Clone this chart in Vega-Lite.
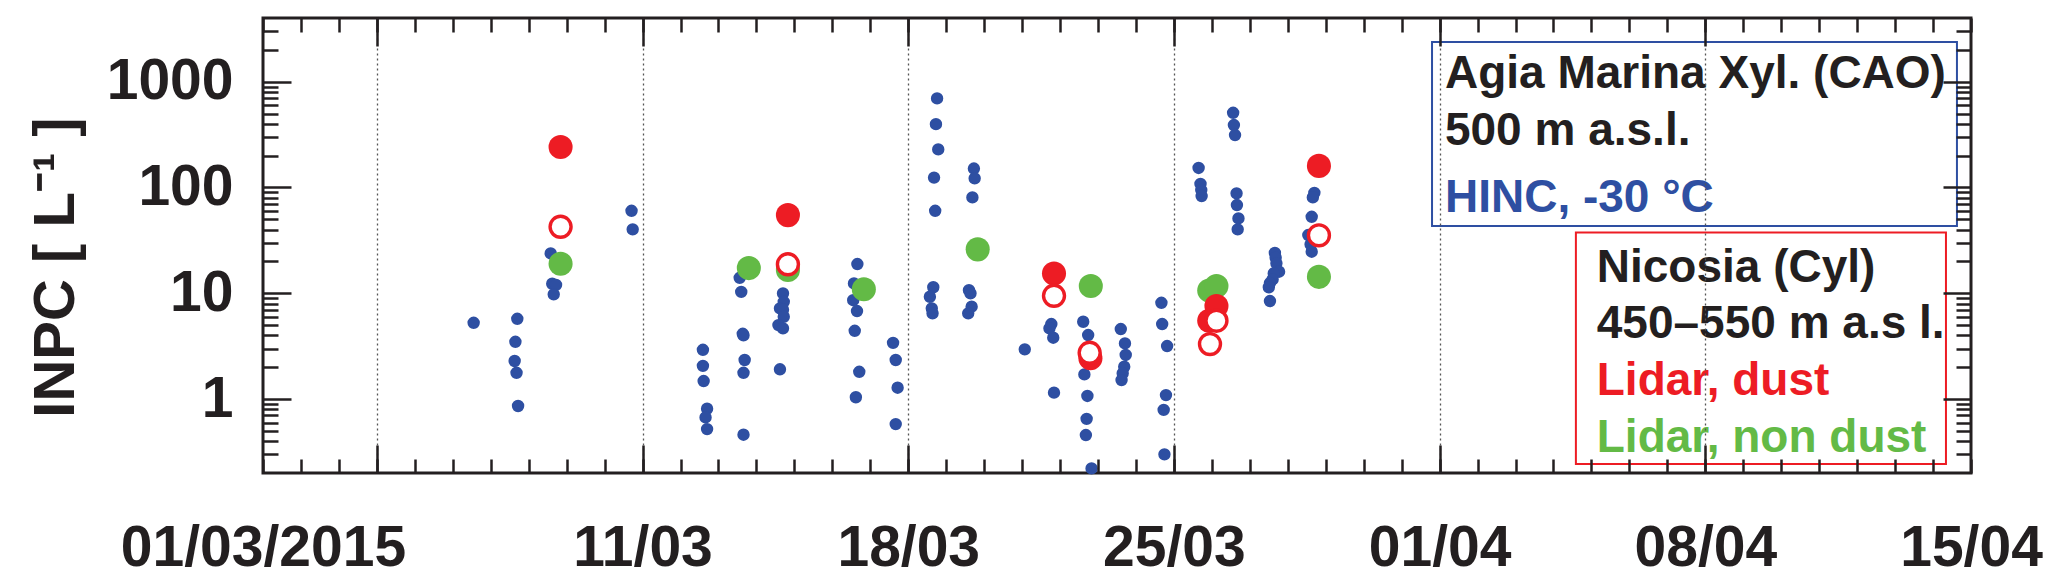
{
  "$schema": "https://vega.github.io/schema/vega-lite/v6.json",
  "autosize": {"type": "none"},
  "padding": {"left": 263, "top": 18, "right": 96, "bottom": 110},
  "width": 1708,
  "height": 455,
  "background": "white",
  "config": {
    "view": {"stroke": "#231f20", "strokeWidth": 3},
    "axis": {"title": null, "tickColor": "#231f20", "tickWidth": 2.5, "domain": false, "grid": false, "labelOverlap": false, "labelLimit": 0}
  },
  "datasets": {
    "obs": [
      {"time": "2015-03-06T13:12", "inpc": 5.26, "series": "HINC"},
      {"time": "2015-03-07T16:48", "inpc": 5.74, "series": "HINC"},
      {"time": "2015-03-07T15:36", "inpc": 3.48, "series": "HINC"},
      {"time": "2015-03-07T15:07", "inpc": 2.29, "series": "HINC"},
      {"time": "2015-03-07T16:19", "inpc": 1.77, "series": "HINC"},
      {"time": "2015-03-07T17:17", "inpc": 0.86, "series": "HINC"},
      {"time": "2015-03-08T13:55", "inpc": 23.8, "series": "HINC"},
      {"time": "2015-03-08T14:53", "inpc": 12.3, "series": "HINC"},
      {"time": "2015-03-08T17:17", "inpc": 12.0, "series": "HINC"},
      {"time": "2015-03-08T15:50", "inpc": 9.77, "series": "HINC"},
      {"time": "2015-03-10T17:02", "inpc": 60.2, "series": "HINC"},
      {"time": "2015-03-10T17:46", "inpc": 40.2, "series": "HINC"},
      {"time": "2015-03-12T14:10", "inpc": 2.92, "series": "HINC"},
      {"time": "2015-03-12T14:10", "inpc": 2.06, "series": "HINC"},
      {"time": "2015-03-12T14:38", "inpc": 1.48, "series": "HINC"},
      {"time": "2015-03-12T16:48", "inpc": 0.81, "series": "HINC"},
      {"time": "2015-03-12T15:50", "inpc": 0.67, "series": "HINC"},
      {"time": "2015-03-12T16:48", "inpc": 0.52, "series": "HINC"},
      {"time": "2015-03-13T13:26", "inpc": 14.0, "series": "HINC"},
      {"time": "2015-03-13T14:24", "inpc": 10.3, "series": "HINC"},
      {"time": "2015-03-13T15:22", "inpc": 4.14, "series": "HINC"},
      {"time": "2015-03-13T15:50", "inpc": 4.0, "series": "HINC"},
      {"time": "2015-03-13T16:34", "inpc": 2.34, "series": "HINC"},
      {"time": "2015-03-13T15:50", "inpc": 1.77, "series": "HINC"},
      {"time": "2015-03-13T15:50", "inpc": 0.46, "series": "HINC"},
      {"time": "2015-03-14T16:48", "inpc": 9.98, "series": "HINC"},
      {"time": "2015-03-14T17:17", "inpc": 8.3, "series": "HINC"},
      {"time": "2015-03-14T14:53", "inpc": 7.2, "series": "HINC"},
      {"time": "2015-03-14T16:48", "inpc": 7.0, "series": "HINC"},
      {"time": "2015-03-14T17:17", "inpc": 6.0, "series": "HINC"},
      {"time": "2015-03-14T13:55", "inpc": 5.0, "series": "HINC"},
      {"time": "2015-03-14T16:48", "inpc": 4.66, "series": "HINC"},
      {"time": "2015-03-14T14:53", "inpc": 1.91, "series": "HINC"},
      {"time": "2015-03-16T15:50", "inpc": 18.9, "series": "HINC"},
      {"time": "2015-03-16T13:41", "inpc": 12.4, "series": "HINC"},
      {"time": "2015-03-16T13:12", "inpc": 8.6, "series": "HINC"},
      {"time": "2015-03-16T15:36", "inpc": 6.79, "series": "HINC"},
      {"time": "2015-03-16T14:10", "inpc": 4.42, "series": "HINC"},
      {"time": "2015-03-16T17:02", "inpc": 1.81, "series": "HINC"},
      {"time": "2015-03-16T14:53", "inpc": 1.04, "series": "HINC"},
      {"time": "2015-03-17T14:24", "inpc": 3.4, "series": "HINC"},
      {"time": "2015-03-17T16:05", "inpc": 2.34, "series": "HINC"},
      {"time": "2015-03-17T17:17", "inpc": 1.28, "series": "HINC"},
      {"time": "2015-03-17T16:05", "inpc": 0.58, "series": "HINC"},
      {"time": "2015-03-18T18:14", "inpc": 695, "series": "HINC"},
      {"time": "2015-03-18T17:31", "inpc": 397, "series": "HINC"},
      {"time": "2015-03-18T18:58", "inpc": 229, "series": "HINC"},
      {"time": "2015-03-18T16:19", "inpc": 124, "series": "HINC"},
      {"time": "2015-03-18T17:02", "inpc": 60.2, "series": "HINC"},
      {"time": "2015-03-18T15:50", "inpc": 11.4, "series": "HINC"},
      {"time": "2015-03-18T13:41", "inpc": 9.27, "series": "HINC"},
      {"time": "2015-03-18T14:53", "inpc": 7.2, "series": "HINC"},
      {"time": "2015-03-18T15:22", "inpc": 6.46, "series": "HINC"},
      {"time": "2015-03-19T17:31", "inpc": 151, "series": "HINC"},
      {"time": "2015-03-19T18:00", "inpc": 122, "series": "HINC"},
      {"time": "2015-03-19T16:34", "inpc": 80.6, "series": "HINC"},
      {"time": "2015-03-19T14:24", "inpc": 10.7, "series": "HINC"},
      {"time": "2015-03-19T15:22", "inpc": 10.0, "series": "HINC"},
      {"time": "2015-03-19T16:05", "inpc": 7.46, "series": "HINC"},
      {"time": "2015-03-19T13:55", "inpc": 6.46, "series": "HINC"},
      {"time": "2015-03-21T01:41", "inpc": 2.95, "series": "HINC"},
      {"time": "2015-03-21T18:29", "inpc": 5.12, "series": "HINC"},
      {"time": "2015-03-21T17:17", "inpc": 4.66, "series": "HINC"},
      {"time": "2015-03-21T19:41", "inpc": 3.8, "series": "HINC"},
      {"time": "2015-03-21T20:10", "inpc": 1.15, "series": "HINC"},
      {"time": "2015-03-22T14:38", "inpc": 5.38, "series": "HINC"},
      {"time": "2015-03-22T17:46", "inpc": 4.03, "series": "HINC"},
      {"time": "2015-03-22T15:22", "inpc": 1.71, "series": "HINC"},
      {"time": "2015-03-22T17:17", "inpc": 1.07, "series": "HINC"},
      {"time": "2015-03-22T16:48", "inpc": 0.65, "series": "HINC"},
      {"time": "2015-03-22T16:19", "inpc": 0.457, "series": "HINC"},
      {"time": "2015-03-22T19:55", "inpc": 0.221, "series": "HINC"},
      {"time": "2015-03-23T14:24", "inpc": 4.59, "series": "HINC"},
      {"time": "2015-03-23T17:02", "inpc": 3.36, "series": "HINC"},
      {"time": "2015-03-23T17:31", "inpc": 2.61, "series": "HINC"},
      {"time": "2015-03-23T16:34", "inpc": 2.02, "series": "HINC"},
      {"time": "2015-03-23T15:36", "inpc": 1.75, "series": "HINC"},
      {"time": "2015-03-23T14:53", "inpc": 1.51, "series": "HINC"},
      {"time": "2015-03-24T16:05", "inpc": 8.13, "series": "HINC"},
      {"time": "2015-03-24T16:34", "inpc": 5.12, "series": "HINC"},
      {"time": "2015-03-24T19:41", "inpc": 3.17, "series": "HINC"},
      {"time": "2015-03-24T18:58", "inpc": 1.09, "series": "HINC"},
      {"time": "2015-03-24T17:31", "inpc": 0.79, "series": "HINC"},
      {"time": "2015-03-24T18:00", "inpc": 0.3, "series": "HINC"},
      {"time": "2015-03-25T15:36", "inpc": 153, "series": "HINC"},
      {"time": "2015-03-25T16:48", "inpc": 108, "series": "HINC"},
      {"time": "2015-03-25T17:17", "inpc": 94.5, "series": "HINC"},
      {"time": "2015-03-25T17:31", "inpc": 83, "series": "HINC"},
      {"time": "2015-03-26T13:26", "inpc": 508, "series": "HINC"},
      {"time": "2015-03-26T13:55", "inpc": 389, "series": "HINC"},
      {"time": "2015-03-26T14:38", "inpc": 313, "series": "HINC"},
      {"time": "2015-03-26T15:36", "inpc": 88, "series": "HINC"},
      {"time": "2015-03-26T15:50", "inpc": 68.2, "series": "HINC"},
      {"time": "2015-03-26T16:48", "inpc": 51, "series": "HINC"},
      {"time": "2015-03-26T16:19", "inpc": 40.2, "series": "HINC"},
      {"time": "2015-03-27T15:50", "inpc": 24.1, "series": "HINC"},
      {"time": "2015-03-27T16:19", "inpc": 21.7, "series": "HINC"},
      {"time": "2015-03-27T16:48", "inpc": 19.2, "series": "HINC"},
      {"time": "2015-03-27T18:29", "inpc": 16.0, "series": "HINC"},
      {"time": "2015-03-27T15:07", "inpc": 15.4, "series": "HINC"},
      {"time": "2015-03-27T14:24", "inpc": 13.5, "series": "HINC"},
      {"time": "2015-03-27T12:43", "inpc": 12.5, "series": "HINC"},
      {"time": "2015-03-27T12:00", "inpc": 11.4, "series": "HINC"},
      {"time": "2015-03-27T12:43", "inpc": 8.44, "series": "HINC"},
      {"time": "2015-03-28T16:48", "inpc": 89, "series": "HINC"},
      {"time": "2015-03-28T15:50", "inpc": 80.6, "series": "HINC"},
      {"time": "2015-03-28T15:07", "inpc": 52.8, "series": "HINC"},
      {"time": "2015-03-28T12:58", "inpc": 35.5, "series": "HINC"},
      {"time": "2015-03-28T14:24", "inpc": 29.0, "series": "HINC"},
      {"time": "2015-03-28T15:07", "inpc": 24.7, "series": "HINC"},
      {"time": "2015-03-08T20:10", "inpc": 19.0, "series": "nondust"},
      {"time": "2015-03-13T19:12", "inpc": 17.3, "series": "nondust"},
      {"time": "2015-03-14T19:55", "inpc": 16.6, "series": "nondust"},
      {"time": "2015-03-16T19:55", "inpc": 10.9, "series": "nondust"},
      {"time": "2015-03-19T19:55", "inpc": 26.0, "series": "nondust"},
      {"time": "2015-03-22T19:26", "inpc": 11.7, "series": "nondust"},
      {"time": "2015-03-25T22:19", "inpc": 10.6, "series": "nondust"},
      {"time": "2015-03-26T02:53", "inpc": 11.7, "series": "nondust"},
      {"time": "2015-03-28T19:41", "inpc": 14.3, "series": "nondust"},
      {"time": "2015-03-08T20:10", "inpc": 241, "series": "dust"},
      {"time": "2015-03-14T19:55", "inpc": 54.8, "series": "dust"},
      {"time": "2015-03-21T20:10", "inpc": 15.4, "series": "dust"},
      {"time": "2015-03-22T19:12", "inpc": 2.43, "series": "dust"},
      {"time": "2015-03-25T22:19", "inpc": 5.5, "series": "dust"},
      {"time": "2015-03-26T02:53", "inpc": 7.57, "series": "dust"},
      {"time": "2015-03-28T19:41", "inpc": 160, "series": "dust"},
      {"time": "2015-03-08T20:10", "inpc": 42.5, "series": "dust_open"},
      {"time": "2015-03-14T19:55", "inpc": 18.8, "series": "dust_open"},
      {"time": "2015-03-21T20:10", "inpc": 9.47, "series": "dust_open"},
      {"time": "2015-03-22T18:43", "inpc": 2.74, "series": "dust_open"},
      {"time": "2015-03-26T02:53", "inpc": 5.5, "series": "dust_open"},
      {"time": "2015-03-25T22:48", "inpc": 3.31, "series": "dust_open"},
      {"time": "2015-03-28T19:41", "inpc": 35.3, "series": "dust_open"}
    ],
    "boxes": [
      {"start": "2015-03-31T19:12", "end": "2015-04-14T15:07", "top": 2367, "bottom": 43.2, "box": "CAO"},
      {"start": "2015-04-04T14:10", "end": "2015-04-14T08:10", "top": 37.6, "bottom": 0.243, "box": "Cyl"}
    ],
    "notes": [
      {"line": "Agia Marina Xyl. (CAO)", "time": "2015-04-01T03:22", "inpc": 864.5, "kind": "header"},
      {"line": "500 m a.s.l.", "time": "2015-04-01T03:22", "inpc": 251.6, "kind": "header"},
      {"line": "HINC, -30 °C", "time": "2015-04-01T03:22", "inpc": 58.9, "kind": "HINC"},
      {"line": "Nicosia (Cyl)", "time": "2015-04-05T03:22", "inpc": 12.84, "kind": "header"},
      {"line": "450–550 m a.s l.", "time": "2015-04-05T03:22", "inpc": 3.75, "kind": "header"},
      {"line": "Lidar, dust", "time": "2015-04-05T03:22", "inpc": 1.09, "kind": "dust"},
      {"line": "Lidar, non dust", "time": "2015-04-05T03:22", "inpc": 0.318, "kind": "nondust"}
    ]
  },
  "resolve": {"scale": {"x": "shared", "y": "shared"}, "axis": {"x": "independent", "y": "independent"}},
  "layer": [
    {
      "data": {"name": "obs"},
      "transform": [{"filter": "datum.series == 'HINC'"}],
      "mark": {"type": "circle", "color": "#2e4fa2", "opacity": 1, "size": 154},
      "encoding": {
        "x": {"field": "time", "type": "temporal",
          "scale": {"domain": [{"year": 2015, "month": 3, "date": 1}, {"year": 2015, "month": 4, "date": 15}], "nice": false},
          "axis": {"orient": "bottom", "ticks": false, "labels": true, "grid": false, "zindex": 1,
            "values": [{"year": 2015, "month": 3, "date": 1}, {"year": 2015, "month": 3, "date": 11}, {"year": 2015, "month": 3, "date": 18}, {"year": 2015, "month": 3, "date": 25}, {"year": 2015, "month": 4, "date": 1}, {"year": 2015, "month": 4, "date": 8}, {"year": 2015, "month": 4, "date": 15}],
            "format": "%d/%m", "labelExpr": "datum.label == '01/03' ? '01/03/2015' : datum.label",
            "labelFont": "Liberation Sans, Arial, sans-serif", "labelFontWeight": "bold", "labelFontSize": 57, "labelColor": "#231f20",
            "labelPadding": 92, "labelBaseline": "alphabetic", "labelFlush": false, "labelBound": false, "labelLimit": 0}},
        "y": {"field": "inpc", "type": "quantitative",
          "scale": {"type": "log", "domain": [0.2, 4000], "nice": false, "zero": false},
          "axis": {"orient": "left", "ticks": false, "grid": false, "zindex": 1, "values": [1, 10, 100, 1000], "format": "d",
            "labelFont": "Liberation Sans, Arial, sans-serif", "labelFontWeight": "bold", "labelFontSize": 57, "labelColor": "#231f20",
            "labelPadding": 30, "labelBaseline": "middle", "labelFlush": false, "labelBound": false, "labelLimit": 0,
            "title": "INPC [ L⁻¹ ]", "titleFont": "Liberation Sans, Arial, sans-serif", "titleFontWeight": "bold", "titleFontSize": 58, "titleColor": "#231f20",
            "titleAngle": 270, "titleX": -190, "titleY": 249, "titleAlign": "center", "titleBaseline": "alphabetic", "titleLimit": 0}}
      }
    },
    {
      "data": {"name": "obs"},
      "transform": [{"filter": "datum.series == 'nondust'"}],
      "mark": {"type": "circle", "color": "#63ba46", "opacity": 1, "size": 580},
      "encoding": {
        "x": {"field": "time", "type": "temporal",
          "scale": {"domain": [{"year": 2015, "month": 3, "date": 1}, {"year": 2015, "month": 4, "date": 15}], "nice": false},
          "axis": {"orient": "bottom", "labels": false, "tickSize": -14, "zindex": 1, "tickCount": {"interval": "day", "step": 1}}},
        "y": {"field": "inpc", "type": "quantitative",
          "scale": {"type": "log", "domain": [0.2, 4000], "nice": false, "zero": false},
          "axis": {"orient": "left", "labels": false, "tickSize": -15, "zindex": 1,
            "values": [0.3, 0.4, 0.5, 0.6, 0.7, 0.8, 0.9, 2, 3, 4, 5, 6, 7, 8, 9, 20, 30, 40, 50, 60, 70, 80, 90, 200, 300, 400, 500, 600, 700, 800, 900, 2000, 3000]}}
      }
    },
    {
      "data": {"name": "obs"},
      "transform": [{"filter": "datum.series == 'dust'"}],
      "mark": {"type": "circle", "color": "#ed1c24", "opacity": 1, "size": 580},
      "encoding": {
        "x": {"field": "time", "type": "temporal",
          "scale": {"domain": [{"year": 2015, "month": 3, "date": 1}, {"year": 2015, "month": 4, "date": 15}], "nice": false},
          "axis": {"orient": "bottom", "labels": false, "tickSize": -28, "zindex": 1,
            "values": [{"year": 2015, "month": 3, "date": 4}, {"year": 2015, "month": 3, "date": 11}, {"year": 2015, "month": 3, "date": 18}, {"year": 2015, "month": 3, "date": 25}, {"year": 2015, "month": 4, "date": 1}, {"year": 2015, "month": 4, "date": 8}],
            "grid": true, "gridDash": [2, 3], "gridColor": "#555555", "gridWidth": 1.3}},
        "y": {"field": "inpc", "type": "quantitative",
          "scale": {"type": "log", "domain": [0.2, 4000], "nice": false, "zero": false},
          "axis": {"orient": "left", "labels": false, "tickSize": -28, "zindex": 1, "values": [1, 10, 100, 1000]}}
      }
    },
    {
      "data": {"name": "obs"},
      "transform": [{"filter": "datum.series == 'dust_open'"}],
      "mark": {"type": "circle", "fill": "white", "stroke": "#ed1c24", "strokeWidth": 3.4, "opacity": 1, "fillOpacity": 1, "size": 440},
      "encoding": {
        "x": {"field": "time", "type": "temporal",
          "scale": {"domain": [{"year": 2015, "month": 3, "date": 1}, {"year": 2015, "month": 4, "date": 15}], "nice": false},
          "axis": {"orient": "top", "labels": false, "tickSize": -14, "zindex": 1, "tickCount": {"interval": "day", "step": 1}}},
        "y": {"field": "inpc", "type": "quantitative",
          "scale": {"type": "log", "domain": [0.2, 4000], "nice": false, "zero": false},
          "axis": {"orient": "right", "labels": false, "tickSize": -15, "zindex": 1,
            "values": [0.3, 0.4, 0.5, 0.6, 0.7, 0.8, 0.9, 2, 3, 4, 5, 6, 7, 8, 9, 20, 30, 40, 50, 60, 70, 80, 90, 200, 300, 400, 500, 600, 700, 800, 900, 2000, 3000]}}
      }
    },
    {
      "data": {"name": "boxes"},
      "mark": {"type": "rect", "fillOpacity": 0, "strokeWidth": 2},
      "encoding": {
        "x": {"field": "start", "type": "temporal",
          "scale": {"domain": [{"year": 2015, "month": 3, "date": 1}, {"year": 2015, "month": 4, "date": 15}], "nice": false},
          "axis": {"orient": "top", "labels": false, "tickSize": -28, "zindex": 1,
            "values": [{"year": 2015, "month": 3, "date": 4}, {"year": 2015, "month": 3, "date": 11}, {"year": 2015, "month": 3, "date": 18}, {"year": 2015, "month": 3, "date": 25}, {"year": 2015, "month": 4, "date": 1}, {"year": 2015, "month": 4, "date": 8}]}},
        "x2": {"field": "end"},
        "y": {"field": "top", "type": "quantitative",
          "scale": {"type": "log", "domain": [0.2, 4000], "nice": false, "zero": false},
          "axis": {"orient": "right", "labels": false, "tickSize": -28, "zindex": 1, "values": [1, 10, 100, 1000]}},
        "y2": {"field": "bottom"},
        "stroke": {"field": "box", "type": "nominal", "scale": {"domain": ["CAO", "Cyl"], "range": ["#2e4fa2", "#ed1c24"]}, "legend": null}
      }
    },
    {
      "data": {"name": "notes"},
      "mark": {"type": "text", "align": "left", "baseline": "alphabetic", "font": "Liberation Sans, Arial, sans-serif", "fontWeight": "bold", "fontSize": 46},
      "encoding": {
        "x": {"field": "time", "type": "temporal", "axis": null,
          "scale": {"domain": [{"year": 2015, "month": 3, "date": 1}, {"year": 2015, "month": 4, "date": 15}], "nice": false}},
        "y": {"field": "inpc", "type": "quantitative", "axis": null,
          "scale": {"type": "log", "domain": [0.2, 4000], "nice": false, "zero": false}},
        "text": {"field": "line"},
        "color": {"field": "kind", "type": "nominal", "scale": {"domain": ["header", "HINC", "dust", "nondust"], "range": ["#231f20", "#2e4fa2", "#ed1c24", "#63ba46"]}, "legend": null}
      }
    }
  ]
}
